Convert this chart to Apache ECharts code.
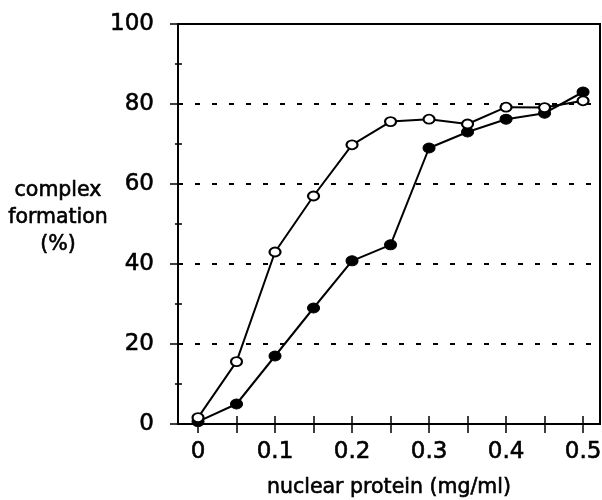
<!DOCTYPE html>
<html>
<head>
<meta charset="utf-8">
<script src="https://cdn.jsdelivr.net/npm/echarts@6/dist/echarts.min.js"></script>
<style>html,body{margin:0;padding:0;background:#fff}#c{width:602px;height:500px}</style>
</head>
<body>
<div id="c"></div>
<script>
const xValues = [0, 0.05, 0.1, 0.15, 0.2, 0.25, 0.3, 0.35, 0.4, 0.45, 0.5];
const openValues = [1.6, 15.6, 43, 57, 69.8, 75.6, 76.2, 75, 79.2, 79.1, 80.8];
const filledValues = [0.6, 5, 17, 29, 40.8, 44.8, 69, 73, 76.2, 77.7, 83];
const xTickValues = [0, 0.05, 0.1, 0.15, 0.2, 0.25, 0.3, 0.35, 0.4, 0.45, 0.5];
const xLabelValues = [0, 0.1, 0.2, 0.3, 0.4, 0.5];
const yTitle = 'complex\nformation\n(%)';
const xTitle = 'nuclear protein (mg/ml)';

const FONT = 'DejaVu Sans';
const chart = echarts.init(document.getElementById('c'), null, {renderer: 'canvas'});
const pairs = vals => xValues.map((x, i) => [x, vals[i]]);
const thick = {textBorderColor: '#000', textBorderWidth: 0.6};
const xBase = {type: 'value', min: -0.026, max: 0.522, position: 'bottom', splitLine: {show: false}};
const yBase = {type: 'value', min: 0, max: 100, interval: 20, position: 'left'};
chart.setOption({
  animation: false,
  backgroundColor: '#fff',
  title: {
    text: yTitle, left: 58, top: 177, padding: 0, textAlign: 'center',
    textStyle: Object.assign({fontFamily: FONT, fontSize: 20.5, fontWeight: 'normal', color: '#000', lineHeight: 27}, thick)
  },
  grid: {left: 178, right: 2, top: 24, bottom: 76, containLabel: false, outerBoundsMode: 'none',
    show: true, borderColor: '#000', borderWidth: 2, backgroundColor: 'transparent'},
  xAxis: [
    Object.assign({}, xBase, {
      axisLine: {show: true, onZero: false, lineStyle: {color: '#000', width: 2}},
      axisTick: {show: true, inside: false, length: 9, customValues: xTickValues, lineStyle: {color: '#000', width: 1.5}},
      axisLabel: Object.assign({show: true, margin: 17, customValues: xLabelValues, fontFamily: FONT, fontSize: 23, color: '#000',
        formatter: v => String(v)}, thick),
      name: xTitle, nameLocation: 'middle', nameGap: 53,
      nameTextStyle: Object.assign({fontFamily: FONT, fontSize: 20.5, color: '#000'}, thick)
    }),
    Object.assign({}, xBase, {
      axisLine: {show: false, onZero: false},
      axisTick: {show: true, inside: true, length: 8, customValues: xTickValues, lineStyle: {color: '#000', width: 1.5}},
      axisLabel: {show: false}
    })
  ],
  yAxis: [
    Object.assign({}, yBase, {
      axisLine: {show: true, onZero: false, lineStyle: {color: '#000', width: 2}},
      axisTick: {show: true, inside: false, length: 8, lineStyle: {color: '#000', width: 1.5}},
      minorTick: {show: true, splitNumber: 2, length: 3, lineStyle: {color: '#000', width: 1.5}},
      axisLabel: Object.assign({show: true, margin: 24, fontFamily: FONT, fontSize: 23, color: '#000'}, thick),
      splitLine: {show: true, lineStyle: {color: '#000', width: 2, type: [5, 12]}}
    }),
    Object.assign({}, yBase, {
      axisLine: {show: false, onZero: false},
      axisTick: {show: true, inside: true, length: 5, lineStyle: {color: '#000', width: 1.5}},
      minorTick: {show: true, splitNumber: 2, length: 4, lineStyle: {color: '#000', width: 1.5}},
      axisLabel: {show: false},
      splitLine: {show: false}
    })
  ],
  series: [
    {
      type: 'line', xAxisIndex: 0, yAxisIndex: 0, data: pairs(filledValues),
      symbol: 'circle', symbolSize: [12, 10], showAllSymbol: true,
      lineStyle: {color: '#000', width: 2},
      itemStyle: {color: '#000', borderColor: '#000', borderWidth: 1}
    },
    {
      type: 'line', xAxisIndex: 0, yAxisIndex: 0, data: pairs(openValues),
      symbol: 'circle', symbolSize: [11, 9], showAllSymbol: true,
      lineStyle: {color: '#000', width: 2},
      itemStyle: {color: '#fff', borderColor: '#000', borderWidth: 2}
    }
  ]
});
</script>
</body>
</html>
